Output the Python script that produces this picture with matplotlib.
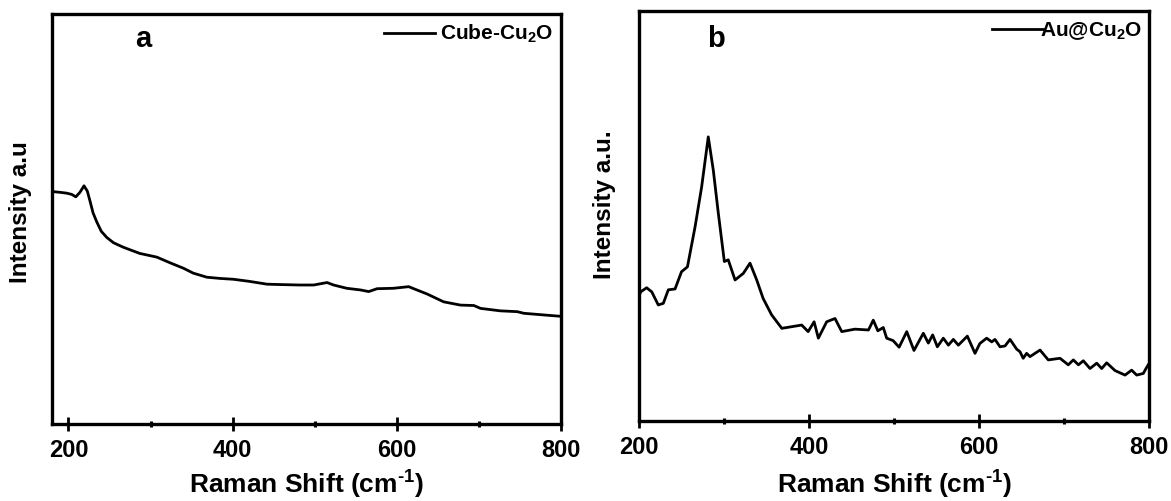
import matplotlib
matplotlib.use("Agg")
import matplotlib.pyplot as plt
from matplotlib.ticker import MultipleLocator, NullLocator

plt.rcParams['font.family'] = ['Liberation Sans', 'DejaVu Sans']
plt.rcParams['font.weight'] = 'bold'
plt.rcParams['mathtext.fontset'] = 'custom'
plt.rcParams['mathtext.rm'] = 'Liberation Sans:bold'
plt.rcParams['mathtext.bf'] = 'Liberation Sans:bold'
plt.rcParams['mathtext.it'] = 'Liberation Sans:bold'

# ---- data ----
cube_x = [180, 190, 198, 204, 209, 214, 219, 223, 226, 230, 234.5, 240, 246.7, 255, 267,
          287, 307.7, 324, 340, 352, 368.6, 385, 401, 420, 442, 460, 482, 498.7, 515, 523,
          539, 555.6, 565.8, 576, 596, 614.5, 620.6, 637, 657, 677.6, 693.8, 702, 726,
          746.7, 754.8, 779, 797.5, 800]
cube_y = [56.7, 56.5, 56.3, 56.0, 55.4, 56.5, 58.1, 56.8, 54.6, 51.5, 49.3, 47.0, 45.5, 44.2, 43.1,
          41.6, 40.7, 39.3, 38.0, 36.8, 35.8, 35.5, 35.3, 34.8, 34.1, 34.0, 33.9, 33.9, 34.5, 33.9,
          33.1, 32.7, 32.3, 33.0, 33.1, 33.5, 33.0, 31.7, 29.8, 29.0, 28.9, 28.2, 27.6,
          27.4, 27.0, 26.6, 26.3, 26.3]

au_x = [200, 202, 209, 215, 222.7, 228.6, 234.5, 242.4, 250, 257, 266, 273.7, 281.5, 287.4, 293.3,
        300.4, 305, 313, 322.7, 330.6, 338.5, 346, 356, 368, 379.6, 391.4, 399, 406, 411, 420.8,
        430.6, 438.5, 454, 470, 475.6, 481, 487.4, 491.4, 499, 506, 515, 523.5, 534.5, 540.4, 545.5,
        551, 558, 564, 569.8, 575.7, 586.3, 595.3, 601, 609, 615, 618.8, 624.7, 630.6, 636.5, 644.4,
        648.2, 652, 656, 660, 671.8, 681.5, 695.3, 705, 711, 717, 722.7, 730.6, 738.5, 744.4, 750.2,
        760, 771.8, 779.6, 785.5, 793.3, 797.3, 800]
au_y = [30.5, 31.5, 32.5, 31.5, 28.3, 28.7, 32.0, 32.2, 36.4, 37.6, 47.4, 57.1, 69.3, 61.2, 50.7,
        38.9, 39.3, 34.4, 36.0, 38.5, 34.4, 29.9, 25.9, 22.6, 23.0, 23.4, 21.8, 24.2, 20.2, 24.2,
        25.0, 21.8, 22.4, 22.2, 24.6, 22.0, 22.8, 20.2, 19.6, 18.0, 21.8, 17.2, 21.4, 19.0, 21.0,
        18.1, 20.2, 18.5, 19.9, 18.5, 20.7, 16.5, 18.9, 20.2, 19.3, 19.9, 18.1, 18.3, 19.9, 17.5,
        16.9, 15.3, 16.5, 15.7, 17.3, 14.9, 15.3, 13.7, 14.9, 13.7, 14.7, 12.8, 14.1, 12.8, 14.2,
        12.3, 11.2, 12.4, 11.2, 11.6, 13.1, 14.0]

xticks = [200, 400, 600, 800]
xlabel = r'Raman Shift (cm$^{\text{-1}}$)'

W, H = 1171, 501
fig = plt.figure(figsize=(W / 100, H / 100), dpi=100)

def make_ax(l, t, r, b):
    return fig.add_axes([l / W, 1 - b / H, (r - l) / W, (b - t) / H])

axa = make_ax(52, 14, 561, 424)
axb = make_ax(639, 11, 1149, 421)

# ax, x, y, legend label, ylabel, letter, xlim, handletextpad, ylabel x, ylabel y,
# legend right, letter x, letter baseline, xlabel y
panels = [
    (axa, cube_x, cube_y, r'Cube-Cu$_2$O', 'Intensity a.u', 'a', (180, 800), 0.23,
     -0.039, 0.518, 0.984, 0.179, 0.9195, -0.110),
    (axb, au_x, au_y, r'Au@Cu$_2$O', 'Intensity a.u.', 'b', (200, 800), -0.15,
     -0.045, 0.527, 0.986, 0.150, 0.912, -0.117),
]

for (ax, x, y, lab, ylab, letter, xlim, htp, ylx, yly, lx, ltx, lty, xly) in panels:
    ax.plot(x, y, color='black', lw=2.0, label=lab)
    ax.set_xlim(*xlim)
    ax.set_ylim(0, 100)
    ax.set_xticks(xticks)
    ax.xaxis.set_minor_locator(MultipleLocator(100))
    ax.yaxis.set_major_locator(NullLocator())
    ax.tick_params(axis='x', which='major', direction='inout', length=10, width=2.0,
                   labelsize=17, pad=6)
    ax.tick_params(axis='x', which='minor', direction='inout', length=5, width=2.2)
    for lbl in ax.get_xticklabels():
        lbl.set_fontweight('bold')
    for s in ax.spines.values():
        s.set_linewidth(2.4)
    ax.set_xlabel(xlabel, fontsize=19, fontweight='bold')
    ax.xaxis.set_label_coords(0.5, xly)
    ax.set_ylabel(ylab, fontsize=17.5, fontweight='bold')
    ax.yaxis.set_label_coords(ylx, yly)
    ax.text(ltx, lty, letter, transform=ax.transAxes,
            fontsize=21, fontweight='bold', ha='center', va='baseline')
    ax.legend(loc='upper right', bbox_to_anchor=(lx, 0.978), frameon=False,
              handlelength=2.45, handletextpad=htp, borderpad=0, borderaxespad=0,
              prop={'size': 15, 'weight': 'bold'})

fig.savefig('out.png', dpi=100)
